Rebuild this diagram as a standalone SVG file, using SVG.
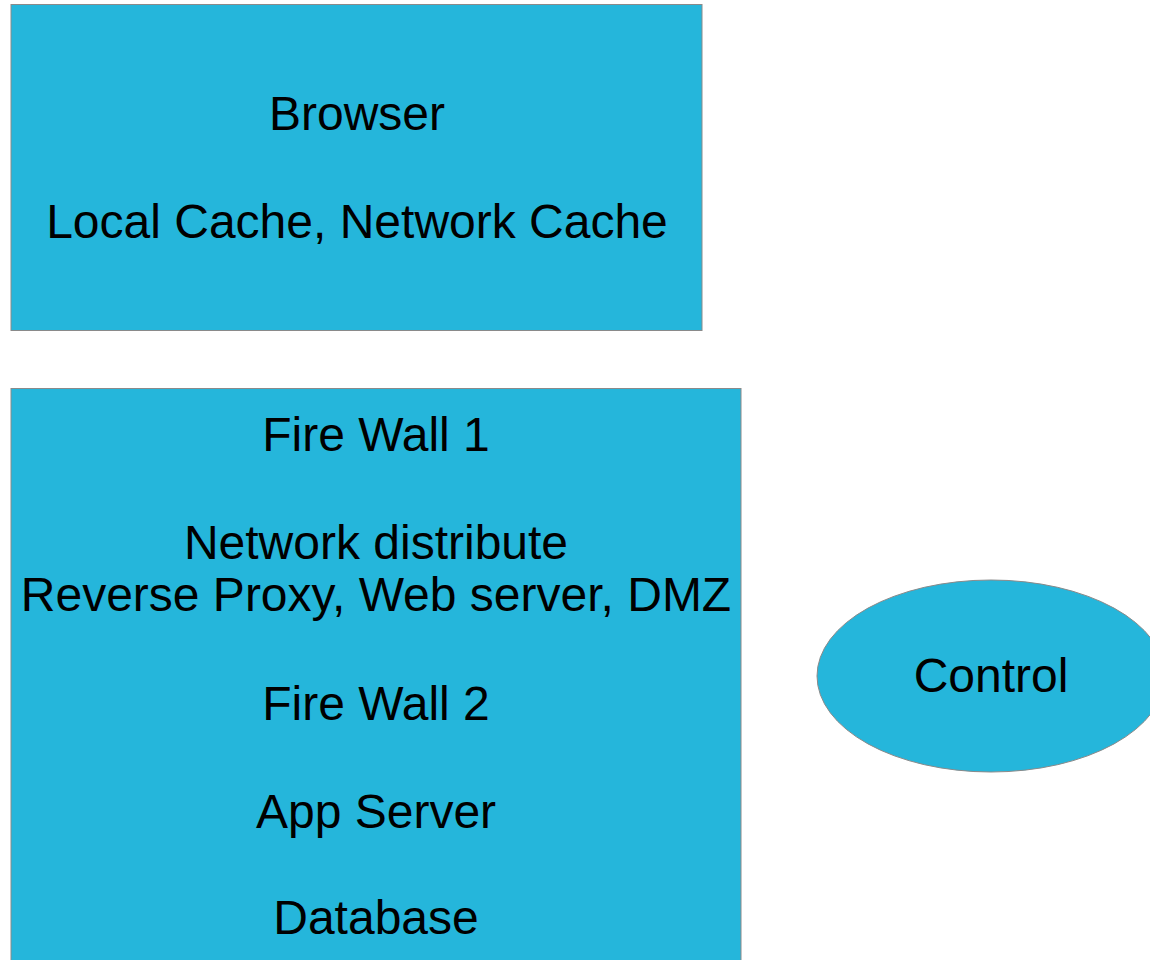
<svg xmlns="http://www.w3.org/2000/svg" width="1150" height="960" viewBox="0 0 1150 960">
<style>
.node{fill:#25b6db;stroke:#8a8a8a;stroke-width:1}
.t{font-family:"Liberation Sans",Arial,sans-serif;font-size:48px;fill:#000;text-anchor:middle}
</style>
<rect width="1150" height="960" fill="#fff"/>
<g id="connectors"></g>
<g id="browser">
<rect class="node" x="11" y="4.5" width="691" height="326"/>
<text class="t" x="357" y="130">Browser</text>
<text class="t" x="357" y="238">Local Cache, Network Cache</text>
</g>
<g id="server-stack">
<rect class="node" x="11" y="388.5" width="730" height="600"/>
<text class="t" x="376" y="451">Fire Wall 1</text>
<text class="t" x="376" y="559">Network distribute</text>
<text class="t" x="376" y="611">Reverse Proxy, Web server, DMZ</text>
<text class="t" x="376" y="720">Fire Wall 2</text>
<text class="t" x="376" y="828">App Server</text>
<text class="t" x="376" y="934">Database</text>
</g>
<g id="control">
<ellipse class="node" cx="991" cy="676" rx="174" ry="96"/>
<text class="t" x="991" y="692">Control</text>
</g>
</svg>
